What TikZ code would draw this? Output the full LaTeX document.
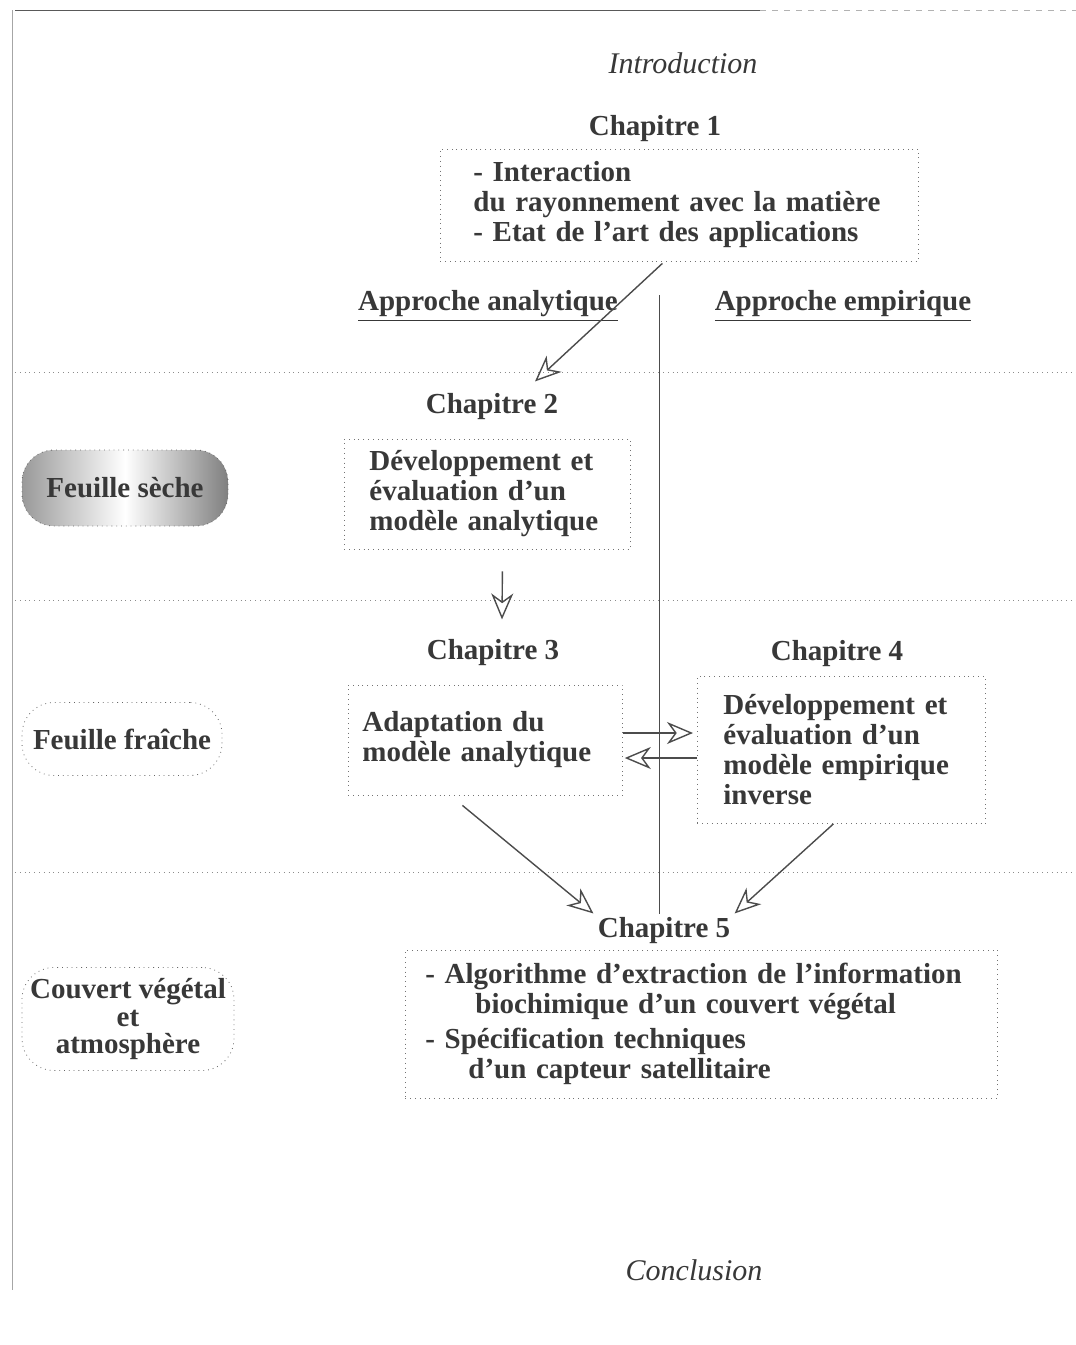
\documentclass[tikz,border=0pt]{standalone}
\usepackage{fontspec}
\setmainfont{Liberation Serif}
\usetikzlibrary{arrows.meta}

\begin{document}
\begin{tikzpicture}
  [x=0.5pt,y=-0.5pt,
   every node/.style={text=black!78,font=\bfseries\fontsize{14.5}{15}\selectfont},
   chap/.style={inner sep=2pt},
   ital/.style={font=\itshape\fontsize{15}{16}\selectfont},
   box/.style={draw=black!55,dotted,align=left,anchor=west,inner ysep=2pt},
   tag/.style={draw=black!60,dotted,rounded corners=16pt,align=center,inner sep=1pt},
   sepline/.style={black!45,dotted},
   arr/.style={-{Stealth[open,length=13pt,width=11pt,inset=4pt]},black!70,line width=0.7pt}]
  \useasboundingbox[fill=white] (0,0) rectangle (1076,1345);

  % page frame
  \draw[black!65] (15,10) -- (760,10);
  \draw[black!30,dashed] (760,10) -- (1076,10);
  \draw[black!35] (12,10) -- (12,1290);

  % rows
  \draw[sepline] (15,372) -- (1076,372);
  \draw[sepline] (15,600) -- (1076,600);
  \draw[sepline] (15,872) -- (1076,872);
  \draw[black!70] (659,295) -- (659,914);

  \node[ital] (intro) at (683,63) {Introduction};
  \node[chap] (c1) at (655,129) {Chapitre 1};
  \node[box,text width=206pt,inner xsep=16.5pt,minimum height=56pt] (b1) at (440,205)
    {- Interaction\\du rayonnement avec la matière\\- Etat de l’art des applications};

  \node (ana) at (488,306) {\underline{Approche analytique}};
  \node (emp) at (843,306) {\underline{Approche empirique}};

  \node[chap] (c2) at (492,407) {Chapitre 2};
  \node[box,text width=118pt,inner xsep=12.5pt,minimum height=55pt] (b2) at (344,494)
    {Développement et\\évaluation d’un\\modèle analytique};

  \node[chap] (c3) at (493,653) {Chapitre 3};
  \node[box,text width=123pt,inner xsep=7pt,minimum height=55pt] (b3) at (348,740)
    {Adaptation du\\modèle analytique};

  \node[chap] (c4) at (837,654) {Chapitre 4};
  \node[box,text width=118pt,inner xsep=13pt,minimum height=73.5pt] (b4) at (697,750)
    {Développement et\\évaluation d’un\\modèle empirique\\inverse};

  \node[chap] (c5) at (664,931) {Chapitre 5};
  \node[box,text width=276pt,inner xsep=10pt,minimum height=74pt] (b5) at (405,1024)
    {- Algorithme d’extraction de l’information\\
     \hspace*{25pt}biochimique d’un couvert végétal\\[2.5pt]
     - Spécification techniques\\
     \hspace*{21.5pt}d’un capteur satellitaire};

  \node[ital] (concl) at (694,1270) {Conclusion};

  % side tags
  \node[tag,minimum width=103pt,minimum height=38pt,
        left color=black!40,right color=black!50,middle color=white] (sec) at (125,488) {Feuille sèche};
  \node[tag,minimum width=100pt,minimum height=36.5pt] (fra) at (122,739) {Feuille fraîche};
  \node[tag,minimum width=106pt,minimum height=51.5pt,
        font=\bfseries\fontsize{14.5}{13.8}\selectfont] (cou) at (128,1019)
    {Couvert végétal\\et\\atmosphère};

  \draw[arr] ([xshift=-8.5pt,yshift=-1pt]b1.south) -- ([xshift=21.5pt,yshift=4pt]c2.north);
  \draw[arr] ([xshift=7.5pt,yshift=-11pt]b2.south) -- ([xshift=4.5pt,yshift=8pt]c3.north);
  \draw[arr] (b3.east |- 0,733) -- ([xshift=-2pt]b4.west |- 0,733);
  \draw[arr] (b4.west |- 0,758) -- ([xshift=1pt]b3.east |- 0,758);
  \draw[arr] ([xshift=-11.5pt,yshift=-5pt]b3.south) -- (c5.north west);
  \draw[arr] ([xshift=-4pt]b4.south) -- (c5.north east);
\end{tikzpicture}
\end{document}
